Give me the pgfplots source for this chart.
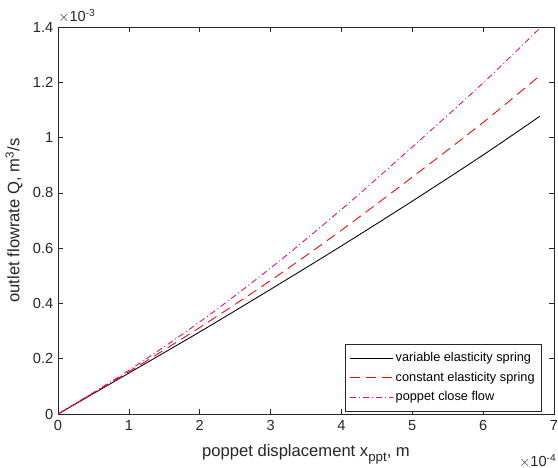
\documentclass[border=0pt]{standalone}
\usepackage{pgfplots}
\pgfplotsset{compat=1.18}
\usepackage{fontspec}
\setmainfont{Liberation Sans}
\definecolor{axgray}{rgb}{0.15,0.15,0.15}
\begin{document}
\begin{tikzpicture}
\useasboundingbox (-43.5bp,-40.5bp) rectangle (375bp,310.5bp);
\begin{axis}[
  scale only axis, width=372bp, height=290.25bp,
  xmin=0, xmax=7, ymin=0, ymax=1.4,
  xtick={0,1,2,3,4,5,6,7},
  ytick={0,0.2,0.4,0.6,0.8,1,1.2,1.4},
  yticklabels={0,0.2,0.4,0.6,0.8,1,1.2,1.4},
  tick align=inside, major tick length=3.5bp,
  axis line style={axgray, line width=0.45pt},
  every tick/.style={axgray, line width=0.45pt},
  /pgf/number format/assume math mode=true,
  every tick label/.append style={font=\fontsize{11}{13}\selectfont, text=axgray},
  xticklabel style={yshift=-1bp},
  xlabel={poppet displacement x\raisebox{-0.55ex}{\fontsize{10}{12}\selectfont ppt}, m},
  ylabel={outlet flowrate Q, m\textsuperscript{3}/s},
  label style={font=\fontsize{12.5}{15}\selectfont, text=axgray},
  xlabel style={yshift=-3.5bp},
  ylabel style={yshift=1bp},
  legend style={at={(rel axis cs:0.975,0.006)}, anchor=south east,
    font=\fontsize{9.6}{11.5}\selectfont, draw=axgray, line width=0.45pt,
    cells={anchor=west}, row sep=2.2bp, inner xsep=3bp, inner ysep=4.5bp},
  legend image code/.code={\draw[#1] (0bp,0bp) -- (32bp,0bp);},
  clip=false,
]
\addplot[black, line width=0.65pt, smooth] coordinates {
(0,0) (1,0.148) (2,0.297) (3,0.451) (4,0.608) (5,0.770) (6,0.937) (6.8,1.077)};
\addlegendentry{variable elasticity spring}
\addplot[red, line width=0.65pt, smooth, dash pattern=on 7.5bp off 4.5bp] coordinates {
(0,0) (1,0.153) (2,0.313) (3,0.483) (4,0.665) (5,0.857) (6,1.055) (6.8,1.224)};
\addlegendentry{constant elasticity spring}
\addplot[magenta, line width=0.65pt, smooth, dash pattern=on 4.5bp off 2.25bp on 0.75bp off 2.25bp] coordinates {
(0,0) (1,0.158) (2,0.333) (3,0.528) (4,0.740) (5,0.966) (6,1.198) (6.8,1.396)};
\addlegendentry{poppet close flow}
\node[anchor=south west, inner sep=0pt, font=\fontsize{11}{13}\selectfont, text=axgray] at ([yshift=3bp]rel axis cs:0,1) {$\times$10\textsuperscript{-3}};
\node[anchor=north east, inner sep=0pt, font=\fontsize{11}{13}\selectfont, text=axgray] at ([yshift=-30bp,xshift=2bp]rel axis cs:1,0) {$\times$10\textsuperscript{-4}};
\end{axis}
\end{tikzpicture}
\end{document}
